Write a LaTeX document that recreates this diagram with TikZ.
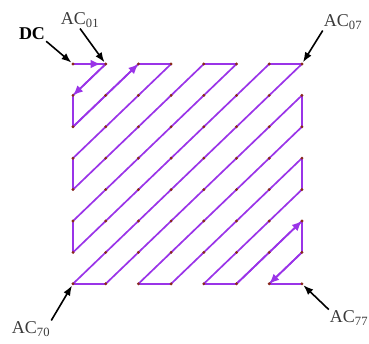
\documentclass[tikz,border=0pt]{standalone}
\usepackage{fontspec}
\setmainfont{Liberation Serif}
\usetikzlibrary{arrows.meta,calc}
\definecolor{scanviolet}{HTML}{9A34E8}
\definecolor{coefdot}{HTML}{8A2A1A}
\definecolor{labgrey}{HTML}{3A3A3A}

\begin{document}
\begin{tikzpicture}[x=1pt,y=-1pt,
      zig/.style={scanviolet,line width=1.7pt,line cap=round,line join=round},
      zigarr/.style={zig,-{Latex[length=10pt,width=8.5pt]}},
      coef/.style={circle,fill=coefdot,inner sep=0pt,minimum size=3.2pt},
      lab/.style={text=labgrey,font=\fontsize{18}{20}\selectfont,inner sep=1pt},
      pin/.style={-{Latex[length=10pt,width=7.5pt]},black,line width=1.6pt,shorten >=2pt}]
    \useasboundingbox (0,0) rectangle (369,344);
    % grid of coefficients
    \foreach \r in {0,...,7}
      \foreach \c in {0,...,7}
        \coordinate (p\r\c) at (73+32.7*\c,64+31.4*\r);
    % zigzag scan order
    \foreach \q [remember=\q as \p (initially 00)] in
      {01,10,20,11,02,03,12,21,30,40,31,22,13,04,05,14,23,32,41,50,60,51,42,33,24,15,06,07,
       16,25,34,43,52,61,70,71,62,53,44,35,26,17,27,36,45,54,63,72,73,64,55,46,37,47,56,65,
       74,75,66,57,67,76,77}
      {\draw[zig] (p\p) -- (p\q);}
    \draw[zigarr] (p00) -- ($(p01)+(-5,0)$);
    \draw[zigarr] (p01) -- (p10);
    \draw[zigarr] (p20) -- (p02);
    \draw[zigarr] (p75) -- (p57);
    \draw[zigarr] (p67) -- (p76);
    \foreach \r in {0,...,7}
      \foreach \c in {0,...,7}
        \node[coef] at (p\r\c) {};
    % labels
    \node[lab,text=black,font=\fontsize{18}{20}\selectfont\bfseries] (dc) at (32,34) {DC};
    \node[lab] (ac01) at (80,20) {AC\textsubscript{01}};
    \node[lab] (ac07) at (343,22) {AC\textsubscript{07}};
    \node[lab] (ac70) at (31,329) {AC\textsubscript{70}};
    \node[lab] (ac77) at (349,318) {AC\textsubscript{77}};
    \draw[pin] (dc.south east) -- (p00);
    \draw[pin] (ac01.south) -- (p01);
    \draw[pin] (ac07.south west) -- (p07);
    \draw[pin] (ac70.north east) -- (p70);
    \draw[pin] (ac77.north west) -- (p77);
\end{tikzpicture}
\end{document}
